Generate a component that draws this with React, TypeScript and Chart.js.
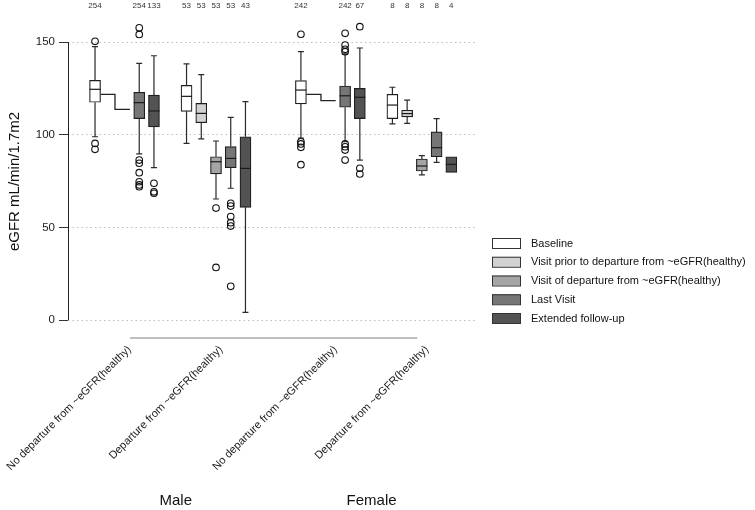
import { useEffect, useRef } from "react";
import { Chart, registerables } from "chart.js";

Chart.register(...registerables);

const FONT = "'Liberation Sans', Arial, Helvetica, sans-serif";

// Categories
const groupLabels = [
  "No departure from ~eGFR(healthy)",
  "Departure from ~eGFR(healthy)",
  "No departure from ~eGFR(healthy)",
  "Departure from ~eGFR(healthy)",
];
const groupPos = [1, 2, 3.25, 4.25];
const sexLabels = ["Male", "Female"];
const sexPos = [1.56, 3.7];

const seriesNames = [
  "Baseline",
  "Visit prior to departure from ~eGFR(healthy)",
  "Visit of departure from ~eGFR(healthy)",
  "Last Visit",
  "Extended follow-up",
];
const seriesColors = ["#ffffff", "#d2d2d2", "#a5a5a5", "#767676", "#535353"];
const slotIndex = [-2, -1, 0, 1, 2];
const slotStep = 0.161;

const yTicks = [0, 50, 100, 150];

// Box stats per group: [lower whisker, Q1, median, Q3, upper whisker]
const baselineBox = [
  [98.9, 117.5, 124.5, 129.3, 147.5],
  [95.3, 112.6, 120.7, 126.6, 138.2],
  [98.1, 116.6, 124.1, 129.2, 144.8],
  [105.8, 108.7, 116, 121.8, 125.6],
];
const priorBox = [
  null,
  [97.7, 106.5, 111.5, 116.9, 132.4],
  null,
  [106.1, 109.6, 111.4, 113.2, 118.7],
];
const departureBox = [
  null,
  [65.3, 78.8, 85.4, 88.1, 96.6],
  null,
  [78.3, 80.4, 83.1, 86.9, 88.7],
];
const lastBox = [
  [89.6, 108.7, 117.3, 122.9, 138.5],
  [71.1, 82.2, 87.2, 93.6, 109.4],
  [96.2, 114.8, 121, 126.3, 143.6],
  [85.1, 88.1, 93, 101.5, 108.7],
];
const extendedBox = [
  [82.2, 104.2, 112.8, 121.4, 142.6],
  [4.1, 60.8, 81.8, 98.9, 117.8],
  [86.3, 108.7, 120.2, 125, 146.8],
  [79.7, 79.7, 84, 88.1, 88.1],
];

// Outliers per group
const baselineOut = [[150.4, 95.3, 92.1], [], [154.2, 96.2, 95, 93.2, 83.8], []];
const priorOut = [[], [], [], []];
const departureOut = [[], [60.4, 28.4], [], []];
const lastOut = [
  [157.7, 154.1, 86.3, 84.6, 79.5, 74.6, 72.9, 71.9],
  [63, 61.5, 55.8, 52.5, 50.7, 18.2],
  [154.7, 148.4, 146.1, 144.8, 95, 93.5, 91.7, 86.3],
  [],
];
const extendedOut = [[73.8, 69.2, 68.4], [], [158.3, 81.9, 78.8], []];

// Counts per group
const baselineN = [254, 53, 242, 8];
const priorN = [null, 53, null, 8];
const departureN = [null, 53, null, 8];
const lastN = [254, 53, 242, 8];
const extendedN = [133, 43, 67, 4];

// Connecting step lines (No departure groups)
const stepMaleX = [0.74, 0.896, 0.896, 1.06];
const stepMaleY = [121.8, 121.8, 113.7, 113.7];
const stepFemaleX = [2.985, 3.147, 3.147, 3.308];
const stepFemaleY = [121.8, 121.8, 118.4, 118.4];

// Bottom rule extent (x-scale units)
const ruleFrom = 1.06;
const ruleTo = 4.2;

const boxes = [baselineBox, priorBox, departureBox, lastBox, extendedBox];
const outs = [baselineOut, priorOut, departureOut, lastOut, extendedOut];
const counts = [baselineN, priorN, departureN, lastN, extendedN];

const xOf = (s: number, g: number) => groupPos[g] + slotIndex[s] * slotStep;

const BOX_W = 11;
const CAP_W = 6;

const boxPlugin = {
  id: "boxExtras",
  beforeDatasetsDraw(chart: any) {
    const { ctx, scales } = chart;
    const xs = scales.x;
    const ys = scales.y;
    ctx.save();
    ctx.strokeStyle = "#2a2a2a";
    ctx.lineWidth = 1.2;
    boxes.forEach((series, s) => {
      series.forEach((b, g) => {
        if (!b) return;
        const cx = xs.getPixelForValue(xOf(s, g));
        const [lo, q1, , q3, hi] = b;
        ctx.beginPath();
        if (hi > q3) {
          ctx.moveTo(cx, ys.getPixelForValue(q3));
          ctx.lineTo(cx, ys.getPixelForValue(hi));
          ctx.moveTo(cx - CAP_W / 2, ys.getPixelForValue(hi));
          ctx.lineTo(cx + CAP_W / 2, ys.getPixelForValue(hi));
        }
        if (lo < q1) {
          ctx.moveTo(cx, ys.getPixelForValue(q1));
          ctx.lineTo(cx, ys.getPixelForValue(lo));
          ctx.moveTo(cx - CAP_W / 2, ys.getPixelForValue(lo));
          ctx.lineTo(cx + CAP_W / 2, ys.getPixelForValue(lo));
        }
        ctx.stroke();
      });
    });
    ctx.restore();
  },
  afterDatasetsDraw(chart: any) {
    const { ctx, scales } = chart;
    const xs = scales.x;
    const ys = scales.y;
    ctx.save();
    ctx.strokeStyle = "#1a1a1a";
    ctx.lineWidth = 1.2;
    boxes.forEach((series, s) => {
      series.forEach((b, g) => {
        if (!b) return;
        const cx = xs.getPixelForValue(xOf(s, g));
        const my = ys.getPixelForValue(b[2]);
        ctx.beginPath();
        ctx.moveTo(cx - BOX_W / 2, my);
        ctx.lineTo(cx + BOX_W / 2, my);
        ctx.stroke();
      });
    });
    ctx.restore();
  },
  afterDraw(chart: any) {
    const { ctx, scales, chartArea } = chart;
    const xs = scales.x;
    const ys = scales.y;
    ctx.save();
    // y axis line from 0 to 150
    ctx.strokeStyle = "#222";
    ctx.lineWidth = 1;
    ctx.beginPath();
    ctx.moveTo(chartArea.left + 0.5, ys.getPixelForValue(yTicks[0]));
    ctx.lineTo(chartArea.left + 0.5, ys.getPixelForValue(yTicks[yTicks.length - 1]));
    ctx.stroke();
    // bottom rule
    ctx.strokeStyle = "#aaaaaa";
    ctx.lineWidth = 1.5;
    ctx.beginPath();
    ctx.moveTo(xs.getPixelForValue(ruleFrom), chartArea.bottom);
    ctx.lineTo(xs.getPixelForValue(ruleTo), chartArea.bottom);
    ctx.stroke();
    // N counts
    ctx.fillStyle = "#333";
    ctx.font = `8px ${FONT}`;
    ctx.textAlign = "center";
    ctx.textBaseline = "middle";
    counts.forEach((series, s) => {
      series.forEach((n, g) => {
        if (n == null) return;
        ctx.fillText(String(n), xs.getPixelForValue(xOf(s, g)), 6);
      });
    });
    // Sex labels
    ctx.fillStyle = "#111";
    ctx.font = `15px ${FONT}`;
    sexLabels.forEach((lab, i) => {
      ctx.fillText(lab, xs.getPixelForValue(sexPos[i]), 501);
    });
    // Legend
    const lx = 492;
    const ly0 = 238;
    const step = 18.75;
    ctx.font = `11px ${FONT}`;
    ctx.textAlign = "left";
    seriesNames.forEach((name, i) => {
      const top = ly0 + i * step;
      ctx.fillStyle = seriesColors[i];
      ctx.fillRect(lx, top, 28, 10);
      ctx.strokeStyle = "#333";
      ctx.lineWidth = 1;
      ctx.strokeRect(lx + 0.5, top + 0.5, 28, 10);
      ctx.fillStyle = "#111";
      ctx.fillText(name, 531, top + 5.5);
    });
    ctx.restore();
  },
};

export default function App() {
  const ref = useRef<HTMLCanvasElement | null>(null);
  useEffect(() => {
    if (!ref.current) return;
    const datasets: any[] = [];
    boxes.forEach((series, s) => {
      const data: any[] = [];
      series.forEach((b, g) => {
        if (b) data.push({ x: xOf(s, g), y: [b[1], b[3]] });
      });
      datasets.push({
        type: "bar",
        label: seriesNames[s],
        data,
        backgroundColor: seriesColors[s],
        borderColor: "#1e1e1e",
        borderWidth: 1.2,
        borderSkipped: false,
        barThickness: BOX_W,
        grouped: false,
        clip: false,
        order: 5,
      });
    });
    outs.forEach((series, s) => {
      const data: any[] = [];
      series.forEach((vals, g) => {
        vals.forEach((v) => data.push({ x: xOf(s, g), y: v }));
      });
      datasets.push({
        type: "scatter",
        label: seriesNames[s] + " outliers",
        data,
        pointRadius: 3.3,
        pointBorderWidth: 1.1,
        pointBorderColor: "#111",
        pointBackgroundColor: "rgba(255,255,255,0)",
        clip: false,
        order: 1,
      });
    });
    [
      [stepMaleX, stepMaleY],
      [stepFemaleX, stepFemaleY],
    ].forEach(([xsArr, ysArr], i) => {
      datasets.push({
        type: "line",
        label: "step" + i,
        data: xsArr.map((x, k) => ({ x, y: ysArr[k] })),
        borderColor: "#222",
        borderWidth: 1.3,
        pointRadius: 0,
        fill: false,
        tension: 0,
        clip: false,
        order: 2,
      });
    });

    const chart = new Chart(ref.current, {
      type: "bar",
      data: { datasets },
      plugins: [boxPlugin],
      options: {
        animation: false,
        responsive: true,
        maintainAspectRatio: false,
        layout: { padding: { top: 25, right: 280, left: 0, bottom: 0 } },
        plugins: {
          legend: { display: false },
          tooltip: { enabled: false },
        },
        scales: {
          x: {
            type: "linear",
            offset: false,
            min: 0.3825,
            max: 4.8306,
            grid: { display: false, offset: false },
            border: { display: false },
            afterBuildTicks: (scale: any) => {
              scale.ticks = groupPos.map((v) => ({ value: v }));
            },
            afterFit: (scale: any) => {
              scale.height = 172;
              scale.paddingLeft = 0;
              scale.paddingRight = 0;
            },
            ticks: {
              autoSkip: false,
              minRotation: 45,
              maxRotation: 45,
              padding: -3,
              labelOffset: 5,
              color: "#1a1a1a",
              font: { family: FONT, size: 11 },
              callback: (_v: any, i: number) => groupLabels[i],
            },
          },
          y: {
            type: "linear",
            min: -9.71,
            max: 159.2,
            afterBuildTicks: (scale: any) => {
              scale.ticks = yTicks.map((v) => ({ value: v }));
            },
            afterFit: (scale: any) => {
              scale.width = 68;
              scale.paddingTop = 0;
              scale.paddingBottom = 0;
            },
            grid: {
              color: "#bdbdbd",
              lineWidth: 1,
              tickColor: "#333",
              tickLength: 9,
              tickBorderDash: [],
              drawTicks: true,
            },
            border: { display: false, dash: [1.5, 3] },
            ticks: {
              padding: 4,
              color: "#1a1a1a",
              font: { family: FONT, size: 11.5 },
            },
            title: {
              display: true,
              text: "eGFR mL/min/1.7m2",
              color: "#111",
              font: { family: FONT, size: 15 },
              padding: { top: 6, bottom: 0 },
            },
          },
        },
      } as any,
    });
    return () => chart.destroy();
  }, []);

  return (
    <div style={{ position: "absolute", left: 0, top: 0, width: 755, height: 510 }}>
      <canvas ref={ref} />
    </div>
  );
}
